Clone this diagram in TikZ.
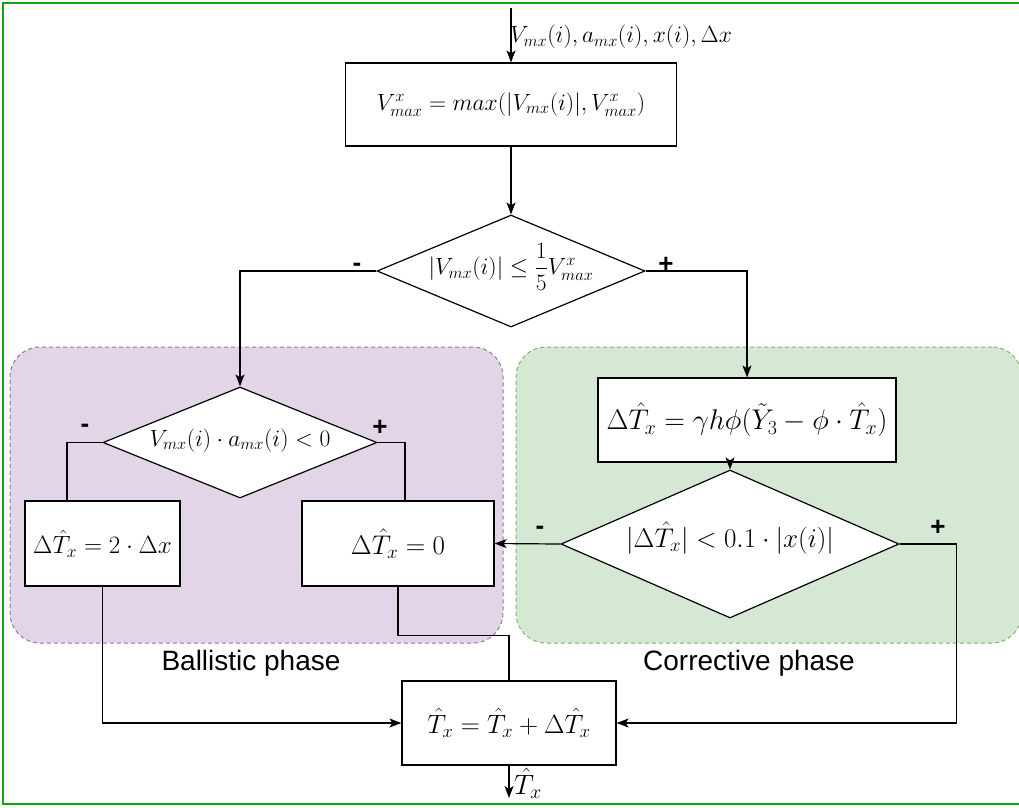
\RequirePackage{fix-cm}
\documentclass[tikz,border=0pt]{standalone}
\usepackage{amsmath,amssymb}
\usepackage{fontspec}
\setsansfont{Liberation Sans}
\usetikzlibrary{arrows.meta,positioning,calc,shapes.geometric,backgrounds}
\definecolor{ink}{RGB}{0,0,0}
\definecolor{frame}{RGB}{20,165,20}
\definecolor{ballfill}{HTML}{E1D5E7}
\definecolor{balldraw}{HTML}{9673A6}
\definecolor{corrfill}{HTML}{D5E8D4}
\definecolor{corrdraw}{HTML}{82B366}
\tikzset{
  blk/.style={draw=ink,fill=white,line width=1.2pt,inner sep=0pt,
    font=\fontsize{23.5}{28}\selectfont},
  big/.style={font=\fontsize{28.5}{34}\selectfont},
  fsz/.style={font=\fontsize{#1}{#1}\selectfont},
  dec/.style={diamond,draw=ink,fill=white,line width=1.2pt,inner sep=0pt,
    text height=12pt,text depth=5pt,font=\fontsize{23.5}{28}\selectfont},
  phase/.style={rounded corners=30pt,line width=1pt,dash pattern=on 4pt off 3pt},
  sgn/.style={font=\sffamily\bfseries\fontsize{26}{30}\selectfont,inner sep=0pt},
  phaselbl/.style={font=\sffamily\fontsize{28}{33}\selectfont,inner sep=0pt},
  arr/.style={-{Stealth[length=12pt,width=9pt,inset=3pt]},line width=1.2pt},
  ln/.style={line width=1.2pt},
}

\begin{document}
\begin{tikzpicture}[x=1pt,y=-1pt]
\useasboundingbox (0,0) rectangle (1019,807);
\draw[frame,line width=1.6pt] (3,3) rectangle (1023,804);

% ---- phase regions ----
\node[phase,draw=balldraw,fill=ballfill,minimum width=493pt,minimum height=296pt]
  (ballistic) at (256.5,495) {};
\node[phase,draw=corrdraw,fill=corrfill,minimum width=506pt,minimum height=296pt]
  (corrective) at (769,495) {};
\node[phaselbl] (balllbl) at (251,663) {Ballistic phase};
\node[phaselbl] (corrlbl) at (749,663) {Corrective phase};

% ---- top ----
\coordinate (in) at (511,8);
\node[blk,minimum width=331pt,minimum height=83pt] (vmax) at (511,104.5)
  {$V^x_{max} = max(|V_{mx}(i)|, V^x_{max})$};
\node[anchor=west,inner sep=0pt,fsz=23.5] (inlbl) at (510,37)
  {$V_{mx}(i), a_{mx}(i), x(i), \Delta x$};
\node[dec,minimum width=268pt,minimum height=112pt,shape aspect=2.39] (d1) at (511,271)
  {$|V_{mx}(i)| \leq \dfrac{1}{5}V^x_{max}$};

% ---- ballistic phase ----
\node[dec,minimum width=274pt,minimum height=111pt,shape aspect=2.47] (d2) at (240,442.5)
  {$V_{mx}(i)\cdot a_{mx}(i) < 0$};
\node[blk,fsz=25,minimum width=155pt,minimum height=85pt] (twodx) at (102.5,543.5)
  {$\Delta\hat{T}_x = 2\cdot\Delta x$};
\node[blk,fsz=27,minimum width=192pt,minimum height=85pt] (zero) at (398,543.5)
  {$\Delta\hat{T}_x = 0$};

% ---- corrective phase ----
\node[blk,big,minimum width=298pt,minimum height=84pt] (corr) at (747,420)
  {$\Delta\hat{T}_x = \gamma h\phi(\tilde{Y}_3 - \phi\cdot\hat{T}_x)$};
\node[dec,fsz=27,minimum width=338pt,minimum height=148pt,shape aspect=2.28] (d3) at (730,544)
  {$|\Delta\hat{T}_x| < 0.1\cdot|x(i)|$};

% ---- update ----
\node[blk,fsz=26.5,minimum width=214pt,minimum height=84pt] (upd) at (509,723)
  {$\hat{T}_x = \hat{T}_x + \Delta\hat{T}_x$};
\coordinate (out) at (509,798);
\node[anchor=west,inner sep=0pt,fsz=28] (outlbl) at (514,783)
  {$\hat{T}_x$};

% ---- signs ----
\node[sgn] (m1) at (357,267) {-};
\node[sgn] (p1) at (666,265) {+};
\node[sgn] (m2) at (85,428) {-};
\node[sgn] (p2) at (380,428) {+};
\node[sgn] (m3) at (540,530) {-};
\node[sgn] (p3) at (938,528) {+};

\draw[arr] (in) -- (vmax);
\draw[arr] (vmax) -- (d1);
\draw[arr] (d1.west) -| (d2.north);
\draw[arr] (d1.east) -| (corr.north);
\draw[ln] (d2.west) -| ([xshift=-35.5pt]twodx.north);
\draw[ln] (d2.east) -| ([xshift=7pt]zero.north);
\draw[arr] (corr.south -| d3.north) -- (d3.north);
\draw[arr] (d3.west) -- (zero.east);
\draw[arr] (d3.east) -- ++(57,0) |- (upd.east);
\draw[arr] (twodx.south) |- (upd.west);
\draw[ln] (zero.south) -- ++(0,49) -| (upd.north);
\draw[arr] (upd.south) -- (out);
\end{tikzpicture}
\end{document}
